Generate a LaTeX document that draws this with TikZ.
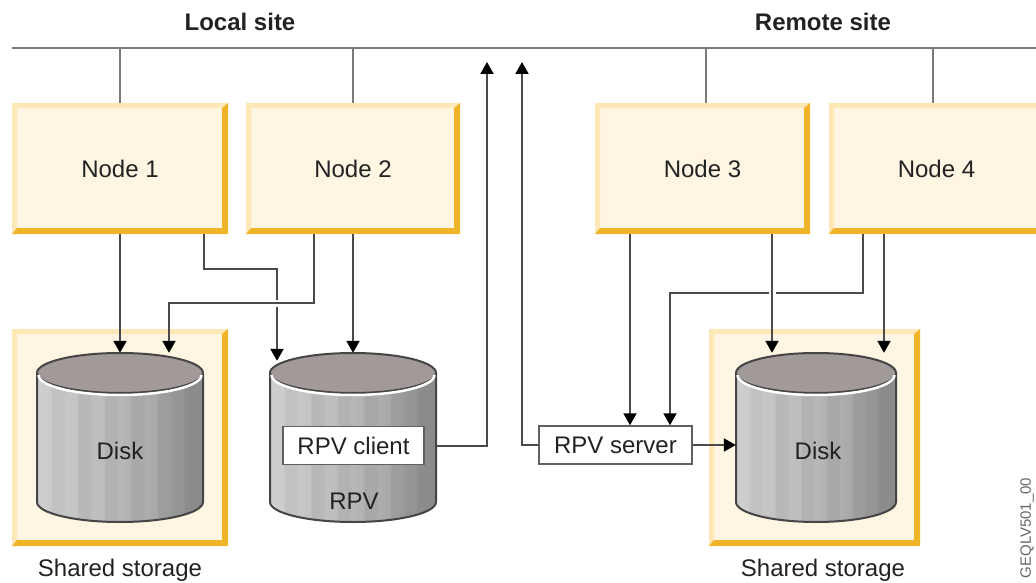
\documentclass[tikz,border=0pt]{standalone}
\usepackage{fontspec}
\setmainfont{Liberation Sans}
\usetikzlibrary{arrows.meta,calc}
\definecolor{cream}{HTML}{FEF5E3}
\definecolor{bvlight}{HTML}{FDE8B6}
\definecolor{bvdark}{HTML}{F0B429}
\definecolor{cyltop}{HTML}{A29A98}
\definecolor{cyledge}{HTML}{454545}
\definecolor{linegray}{HTML}{7A7A7A}
\definecolor{conn}{HTML}{4A4A4A}
\definecolor{txt}{HTML}{222222}
\pgfdeclarehorizontalshading{cylstripes}{100bp}{%
  rgb(0bp)=(.81,.81,.81); rgb(25bp)=(.81,.81,.81); rgb(29bp)=(.80,.80,.80);
  rgb(29.6bp)=(.76,.76,.76); rgb(33bp)=(.76,.76,.76);
  rgb(33.6bp)=(.78,.78,.78); rgb(37bp)=(.77,.77,.77);
  rgb(37.6bp)=(.72,.72,.72); rgb(41bp)=(.72,.72,.72);
  rgb(41.6bp)=(.75,.75,.75); rgb(45bp)=(.74,.74,.74);
  rgb(45.6bp)=(.70,.70,.70); rgb(49bp)=(.70,.70,.70);
  rgb(49.6bp)=(.72,.72,.72); rgb(53bp)=(.70,.70,.70);
  rgb(53.6bp)=(.66,.66,.66); rgb(57bp)=(.66,.66,.66);
  rgb(57.6bp)=(.68,.68,.68); rgb(61bp)=(.66,.66,.66);
  rgb(61.6bp)=(.62,.62,.62); rgb(65bp)=(.61,.61,.61);
  rgb(65.6bp)=(.59,.59,.59); rgb(69bp)=(.58,.58,.58);
  rgb(69.6bp)=(.55,.55,.55); rgb(75bp)=(.54,.54,.54); rgb(100bp)=(.54,.54,.54)}
\newcommand\drawcyl[5]{%
  \shade[shading=cylstripes] (#1-#4,#2) -- (#1-#4,#3) arc[start angle=180,end angle=0,x radius=#4,y radius=#5] -- (#1+#4,#2) -- cycle;
  \fill[cyltop] (#1,#2) ellipse[x radius=#4,y radius=#5];
  \draw[cyledge, line width=2pt] (#1-#4,#2) -- (#1-#4,#3) arc[start angle=180,end angle=0,x radius=#4,y radius=#5] -- (#1+#4,#2);
  \draw[cyledge, line width=2pt] (#1,#2) ellipse[x radius=#4,y radius=#5];
  \draw[white, line width=2.5pt] (#1-#4+1.5,#2+2) arc[start angle=180,end angle=0,x radius=#4-1.5,y radius=#5];
}
\begin{document}
\begin{tikzpicture}[x=1pt,y=-1pt,
  every node/.style={text=txt, font=\fontsize{24}{28}\selectfont},
  bevelbox/.style={fill=cream, inner sep=0pt, path picture={
    \coordinate (pa) at (path picture bounding box.north west);
    \coordinate (pb) at (path picture bounding box.north east);
    \coordinate (pc) at (path picture bounding box.south east);
    \coordinate (pd) at (path picture bounding box.south west);
    \fill[bvlight] (pa) -- (pb) -- ($(pb)+(-6,5)$) -- ($(pa)+(5,5)$) -- ($(pd)+(5,-6)$) -- (pd) -- cycle;
    \fill[bvdark] (pb) -- (pc) -- (pd) -- ($(pd)+(5,-6)$) -- ($(pc)+(-6,-6)$) -- ($(pb)+(-6,5)$) -- cycle;
  }},
  hdr/.style={font=\bfseries\fontsize{24}{28}\selectfont, inner sep=0pt},
  lbl/.style={inner sep=0pt},
  wbox/.style={draw=gray!75!black, fill=white, line width=1.5pt, inner sep=0pt, minimum height=38pt},
  area/.style={inner sep=0pt, draw=none},
  link/.style={draw=linegray, line width=2pt},
  arr/.style={draw=conn, line width=2pt, -{Triangle[width=13pt,length=12pt,color=black]}},
  halo/.style={preaction={draw=white, line width=7pt, -, shorten >=36pt}}
]
\useasboundingbox (0,0) rectangle (1036,583);
\clip (0,0) rectangle (1036,583);

% headers and bus
\node[hdr] (hl) at (240,22) {Local site};
\node[hdr] (hr) at (823,22) {Remote site};
\coordinate (busL) at (12,48);
\coordinate (busR) at (1036,48);
\coordinate (upL) at (487,62);
\coordinate (upR) at (522,62);
\draw[link] (busL) -- (busR);

% storage boxes
\node[bevelbox, minimum width=216pt, minimum height=217pt] (s1) at (120,437.5) {};
\node[bevelbox, minimum width=211pt, minimum height=217pt] (s2) at (814.5,437.5) {};
\node[lbl] (s1l) at (120,570) {Shared storage};
\node[lbl] (s2l) at (823,570) {Shared storage};

% cylinders
\node[area, minimum width=166pt, minimum height=169pt] (d1) at (120,437.5) {};
\node[area, minimum width=166pt, minimum height=169pt] (rpv) at (353,437.5) {};
\node[area, minimum width=160pt, minimum height=169pt] (d2) at (816,437.5) {};
\drawcyl{120}{373}{502}{83}{20}
\drawcyl{353}{373}{502}{83}{20}
\drawcyl{816}{373}{502}{80}{20}
\node[lbl] (d1t) at (120,451) {Disk};
\node[lbl] (d2t) at (818,451) {Disk};
\node[lbl] (rpvt) at (354,501) {RPV};
\node[wbox, minimum width=141pt] (rpvc) at (353.5,445.5) {RPV client};
\node[wbox, minimum width=153pt] (srv) at (615.5,445) {RPV server};

% cluster nodes
\node[bevelbox, minimum width=216pt, minimum height=131pt] (n1) at (120,168.5) {Node 1};
\node[bevelbox, minimum width=214pt, minimum height=131pt] (n2) at (353,168.5) {Node 2};
\node[bevelbox, minimum width=215pt, minimum height=131pt] (n3) at (702.5,168.5) {Node 3};
\node[bevelbox, minimum width=215pt, minimum height=131pt] (n4) at (936.5,168.5) {Node 4};

% links to bus
\draw[link] (n1.north) -- (n1.north |- busL);
\draw[link] (n2.north) -- (n2.north |- busL);
\coordinate (n3t) at ($(n3.north)+(3.5,0)$);
\coordinate (n4t) at ($(n4.north)+(-3.5,0)$);
\draw[link] (n3t) -- (n3t |- busL);
\draw[link] (n4t) -- (n4t |- busL);

% local arrows
\draw[arr] (n1.south) -- (n1.south |- d1.north);
\draw[arr] ($(n1.south east)+(-24,0)$) -- ++(0,35) -| ($(rpv.north)+(-76,8)$);
\draw[arr,halo] ($(n2.south)+(-39,0)$) -- ++(0,69) -| ($(d1.north)+(49,0)$);
\draw[arr] (n2.south) -- (n2.south |- rpv.north);

% remote arrows
\draw[arr] ($(n3.south)+(-72.5,0)$) -- ($(srv.north)+(14.5,0)$);
\draw[arr] ($(n4.south)+(-73.5,0)$) -- ++(0,59) -| ($(srv.north)+(54.5,0)$);
\coordinate (n3b) at ($(n3.south)+(69.5,0)$);
\coordinate (n4b) at ($(n4.south)+(-52.5,0)$);
\draw[arr,halo] (n3b) -- (n3b |- d2.north);
\draw[arr] (n4b) -- (n4b |- d2.north);

% RPV links
\draw[arr] ($(rpvc.east)+(12,0)$) -| (upL);
\draw[arr] (srv.west) -| (upR);
\draw[arr] (srv.east) -- (srv.east -| d2.west);

\node[rotate=90, font=\fontsize{15}{17}\selectfont, text=black!60] (figid) at (1027,528) {GEQLV501\_00};
\end{tikzpicture}
\end{document}
